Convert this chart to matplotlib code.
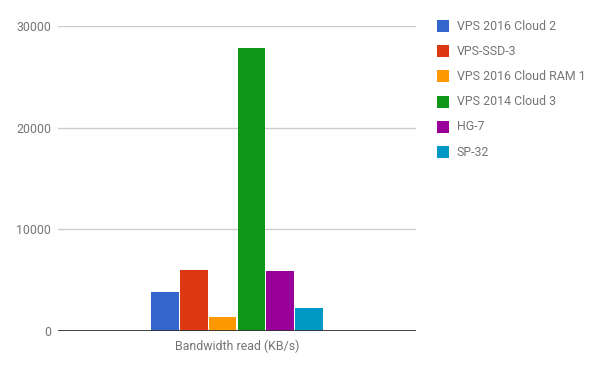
import matplotlib
matplotlib.use("Agg")
import matplotlib.pyplot as plt
from matplotlib.patches import Rectangle

series = ["VPS 2016 Cloud 2", "VPS-SSD-3", "VPS 2016 Cloud RAM 1",
          "VPS 2014 Cloud 3", "HG-7", "SP-32"]
values = [3840, 6000, 1380, 27850, 5900, 2260]
colors = ["#3366cc", "#dc3912", "#ff9900", "#109618", "#990099", "#0099c6"]
category = "Bandwidth read (KB/s)"
yticks = [0, 10000, 20000, 30000]

plt.rcParams['font.family'] = ['Roboto', 'DejaVu Sans']
W, H = 603, 371
fig = plt.figure(figsize=(W / 100, H / 100), dpi=100)
ax = fig.add_axes([58 / W, 1 - 331 / H, (416 - 58) / W, (331 - 26.3) / H])

fs = 8.9
n = len(values)
group = 0.483
slot = group / n
for i, (v, c) in enumerate(zip(values, colors)):
    x = -group / 2 + slot * (i + 0.5)
    ax.bar(x, v, width=slot - 0.003, color=c, linewidth=0, zorder=3)

ax.set_xlim(-0.5, 0.5)
ax.set_ylim(0, 30000)
ax.set_yticks(yticks)
ax.set_yticklabels([str(t) for t in yticks], color="#757575", fontsize=fs)
ax.tick_params(axis='y', length=0, pad=5)
ax.set_xticks([])
for t in yticks[1:]:
    ax.axhline(t, color="#cccccc", linewidth=1, zorder=1)
ax.axhline(0, color="#333333", linewidth=1.3, zorder=4)
for s in ax.spines.values():
    s.set_visible(False)

fig.text(237 / W, 1 - 346 / H, category, ha="center", va="center",
         color="#757575", fontsize=fs)

# legend
for i, (name, c) in enumerate(zip(series, colors)):
    yc = 26 + i * 25.2
    fig.patches.append(Rectangle((437 / W, 1 - (yc + 6) / H), 12 / W, 12 / H,
                                 transform=fig.transFigure, color=c, linewidth=0))
    fig.text(456.5 / W, 1 - yc / H, name, ha="left", va="center",
             color="#757575", fontsize=fs)

fig.savefig("out.png", dpi=100)
